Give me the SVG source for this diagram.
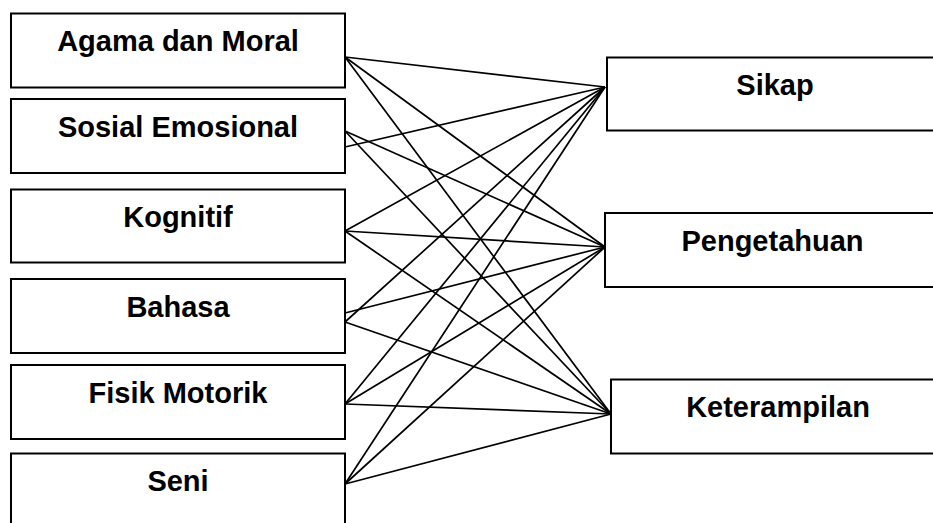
<svg xmlns="http://www.w3.org/2000/svg" width="933" height="523" viewBox="0 0 933 523">
<style>
.box{fill:#fff;stroke:#000;stroke-width:2}
.lbl{font-family:"Liberation Sans",Arial,sans-serif;font-weight:bold;font-size:29px;fill:#000;text-anchor:middle}
.con line{stroke:#000;stroke-width:1.7}
</style>
<rect width="933" height="523" fill="#fff"/>
<g id="agama"><rect class="box" x="11" y="13.5" width="334" height="74"/><text class="lbl" x="178" y="51">Agama dan Moral</text></g>
<g id="sosial"><rect class="box" x="11" y="99" width="334" height="74"/><text class="lbl" x="178" y="137">Sosial Emosional</text></g>
<g id="kognitif"><rect class="box" x="11" y="189.5" width="334" height="73"/><text class="lbl" x="178" y="227">Kognitif</text></g>
<g id="bahasa"><rect class="box" x="11" y="279" width="334" height="74"/><text class="lbl" x="178" y="317">Bahasa</text></g>
<g id="fisik"><rect class="box" x="11" y="365" width="334" height="74"/><text class="lbl" x="178" y="403">Fisik Motorik</text></g>
<g id="seni"><rect class="box" x="11" y="453.5" width="334" height="80"/><text class="lbl" x="178" y="491">Seni</text></g>
<g id="sikap"><rect class="box" x="607" y="57.5" width="340" height="73"/><text class="lbl" x="775" y="94.5">Sikap</text></g>
<g id="pengetahuan"><rect class="box" x="605" y="213" width="340" height="74"/><text class="lbl" x="772.5" y="251">Pengetahuan</text></g>
<g id="keterampilan"><rect class="box" x="611" y="379.5" width="340" height="74"/><text class="lbl" x="778" y="417">Keterampilan</text></g>
<g id="connectors" class="con">
<line x1="345" y1="57" x2="605" y2="87"/>
<line x1="345" y1="57" x2="605" y2="247"/>
<line x1="345" y1="57" x2="611" y2="414"/>
<line x1="345" y1="147" x2="605" y2="87"/>
<line x1="345" y1="131" x2="605" y2="247"/>
<line x1="345" y1="131" x2="611" y2="414"/>
<line x1="345" y1="231" x2="605" y2="87"/>
<line x1="345" y1="231" x2="605" y2="247"/>
<line x1="345" y1="231" x2="611" y2="414"/>
<line x1="345" y1="322" x2="605" y2="87"/>
<line x1="345" y1="313" x2="605" y2="247"/>
<line x1="345" y1="322" x2="611" y2="414"/>
<line x1="345" y1="404" x2="605" y2="87"/>
<line x1="345" y1="404" x2="605" y2="247"/>
<line x1="345" y1="404" x2="611" y2="414"/>
<line x1="345" y1="484" x2="605" y2="87"/>
<line x1="345" y1="484" x2="605" y2="247"/>
<line x1="345" y1="484" x2="611" y2="414"/>
</g>
</svg>
